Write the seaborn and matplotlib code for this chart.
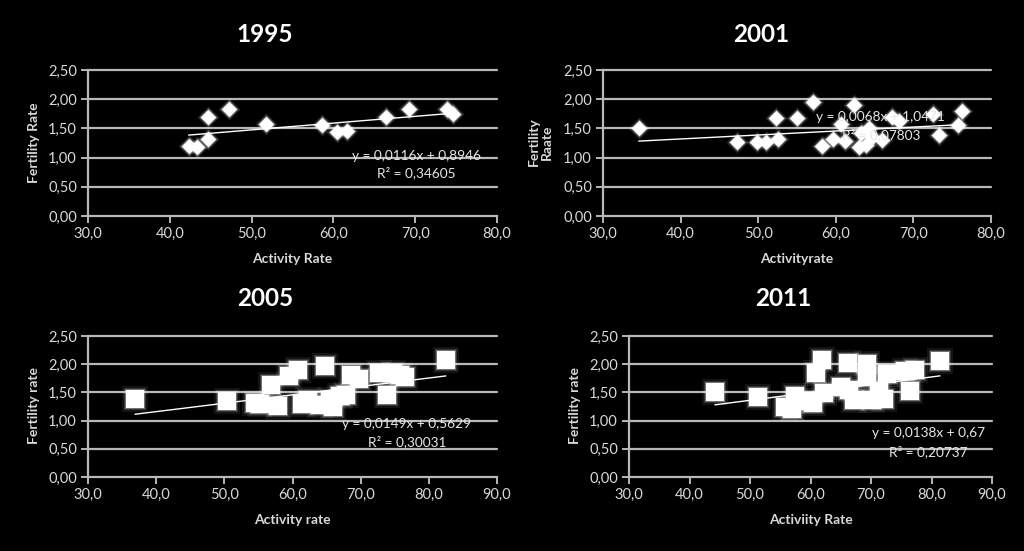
import matplotlib
matplotlib.use("Agg")
import matplotlib.pyplot as plt
from matplotlib.ticker import FuncFormatter, MultipleLocator
import seaborn as sns
import pandas as pd

# ---------------- data ----------------
years = ["1995", "2001", "2005", "2011"]

act_1995 = [42.3, 43.3, 44.7, 44.7, 47.2, 51.8, 58.6, 60.4, 61.7, 66.4, 69.3, 73.9, 74.6]
fert_1995 = [1.20, 1.18, 1.31, 1.70, 1.84, 1.58, 1.55, 1.43, 1.45, 1.70, 1.83, 1.83, 1.74]

act_2001 = [34.6, 47.3, 49.8, 51.0, 52.3, 52.5, 55.0, 57.1, 58.2, 59.7, 60.7, 61.2, 62.3,
            63.0, 63.2, 63.9, 64.3, 64.7, 66.0, 67.2, 68.2, 72.5, 73.3, 75.8, 76.2]
fert_2001 = [1.50, 1.26, 1.26, 1.26, 1.67, 1.31, 1.68, 1.95, 1.20, 1.32, 1.58, 1.29, 1.90,
             1.19, 1.42, 1.22, 1.50, 1.35, 1.30, 1.69, 1.63, 1.75, 1.39, 1.56, 1.80]

act_2005 = [36.9, 50.4, 54.5, 55.2, 56.9, 57.8, 59.5, 60.8, 61.4, 62.3, 64.0, 64.7, 65.5,
            65.9, 66.9, 67.8, 68.6, 69.8, 72.7, 73.9, 74.8, 75.7, 76.5, 82.5]
fert_2005 = [1.39, 1.34, 1.31, 1.30, 1.64, 1.26, 1.79, 1.90, 1.30, 1.37, 1.27, 1.96, 1.36,
             1.24, 1.44, 1.45, 1.81, 1.73, 1.84, 1.45, 1.85, 1.81, 1.77, 2.07]

act_2011 = [44.2, 51.4, 55.8, 56.9, 57.4, 59.5, 60.4, 60.9, 61.9, 62.2, 65.0, 66.2, 66.3,
            67.2, 69.4, 69.4, 70.2, 71.3, 72.1, 72.6, 75.7, 76.4, 77.3, 81.4]
fert_2011 = [1.50, 1.41, 1.25, 1.20, 1.44, 1.34, 1.31, 1.84, 2.08, 1.49, 1.60, 2.02, 1.55,
             1.36, 2.00, 1.78, 1.36, 1.52, 1.38, 1.82, 1.88, 1.53, 1.90, 2.05]

slopes = [0.0116, 0.0068, 0.0149, 0.0138]
intercepts = [0.8946, 1.0471, 0.5629, 0.67]
equations = ["y = 0,0116x + 0,8946", "y = 0,0068x + 1,0471",
             "y = 0,0149x + 0,5629", "y = 0,0138x + 0,67"]
r2_labels = ["R² = 0,34605", "R² = 0,07803", "R² = 0,30031", "R² = 0,20737"]
x_labels = ["Activity Rate", "Activityrate", "Activity rate", "Activiity Rate"]
y_labels = ["Fertility Rate", "Fertility\nRaate", "Fertility rate", "Fertility rate"]
x_max = [80, 80, 90, 90]

xs = [act_1995, act_2001, act_2005, act_2011]
ys = [fert_1995, fert_2001, fert_2005, fert_2011]

# ---------------- layout (pixels) ----------------
W, H = 1024, 551
sns.set_theme(style="dark")
FONT = ["Lato", "DejaVu Sans"]
plt.rcParams["font.family"] = FONT

fig = plt.figure(figsize=(W / 100, H / 100), dpi=100, facecolor="black")


def fx(x):
    return x / W


def fy(y):
    return 1 - y / H


# axes boxes: left, right, top, bottom in pixels
boxes = [(88, 497, 70, 216), (603, 991, 70, 216), (88, 497, 336, 477), (629, 992, 336, 477)]
title_pos = [(265, 34), (761, 34), (265, 298), (783, 298)]
ylab_pos = [(34, 143), (540, 142), (34, 405), (575, 405)]
xlab_y = [259, 259, 520, 520]
eq_pos = [(70.1, 1.03, 0.74), (65.8, 1.70, 1.39), (76.8, 0.94, 0.62), (79.5, 0.78, 0.44)]
markers = ["D", "D", "s", "s"]
msizes = [62, 62, 150, 150]

fmt1 = FuncFormatter(lambda v, p: f"{v:.1f}".replace(".", ","))
fmt2 = FuncFormatter(lambda v, p: f"{v:.2f}".replace(".", ","))

grid_c = "#b8b8b8"
tick_c = "#d9d9d9"

for i in range(4):
    l, r, t, b = boxes[i]
    ax = fig.add_axes([fx(l), fy(b), (r - l) / W, (b - t) / H])
    ax.set_facecolor("black")
    df = pd.DataFrame({"x": xs[i], "y": ys[i]})

    # soft glow layers
    for scale, alpha in [(2.2, 0.08), (1.7, 0.14), (1.3, 0.30)]:
        sns.scatterplot(data=df, x="x", y="y", ax=ax, marker=markers[i],
                        s=msizes[i] * scale, color="white", alpha=alpha,
                        linewidth=0, zorder=3, legend=False)
    sns.scatterplot(data=df, x="x", y="y", ax=ax, marker=markers[i],
                    s=msizes[i], color="white", linewidth=0, zorder=4, legend=False)

    # trend line from stated equation
    x0, x1 = min(xs[i]), max(xs[i])
    trend = pd.DataFrame({"x": [x0, x1],
                          "y": [slopes[i] * x0 + intercepts[i], slopes[i] * x1 + intercepts[i]]})
    sns.lineplot(data=trend, x="x", y="y", ax=ax, color="white", lw=1.0, zorder=5)

    ax.set_xlim(30, x_max[i])
    ax.set_ylim(0, 2.5)
    ax.xaxis.set_major_locator(MultipleLocator(10))
    ax.yaxis.set_major_locator(MultipleLocator(0.5))
    ax.xaxis.set_major_formatter(fmt1)
    ax.yaxis.set_major_formatter(fmt2)
    ax.grid(False)
    for yv in [0.5, 1.0, 1.5, 2.0, 2.5]:
        ax.axhline(yv, color=grid_c, lw=1.6, zorder=1, clip_on=False)
    for s in ["top", "right"]:
        ax.spines[s].set_visible(False)
    for s in ["left", "bottom"]:
        ax.spines[s].set_visible(True)
        ax.spines[s].set_color(grid_c)
        ax.spines[s].set_linewidth(1.6)
    ax.tick_params(axis="both", which="major", direction="out", length=5, width=1.4,
                   color=grid_c, labelcolor=tick_c, labelsize=10.5, pad=3,
                   bottom=True, left=True)
    ax.set_xlabel("")
    ax.set_ylabel("")

    # equation text
    ex, ey1, ey2 = eq_pos[i]
    ax.text(ex, ey1, equations[i], color="#e6e6e6", fontsize=9.8, ha="center", va="center", zorder=6)
    ax.text(ex, ey2, r2_labels[i], color="#e6e6e6", fontsize=9.8, ha="center", va="center", zorder=6)

    # titles / labels
    tx, ty = title_pos[i]
    fig.text(fx(tx), fy(ty), years[i], color="white", fontsize=17.5, fontweight="bold",
             ha="center", va="center")
    lx, ly = ylab_pos[i]
    fig.text(fx(lx), fy(ly), y_labels[i], color=tick_c, fontsize=10, fontweight="bold",
             rotation=90, ha="center", va="center", multialignment="center", linespacing=1.1)
    fig.text(fx((l + r) / 2), fy(xlab_y[i]), x_labels[i], color=tick_c, fontsize=10,
             fontweight="bold", ha="center", va="center")

fig.savefig("out.png", dpi=100, facecolor="black")
